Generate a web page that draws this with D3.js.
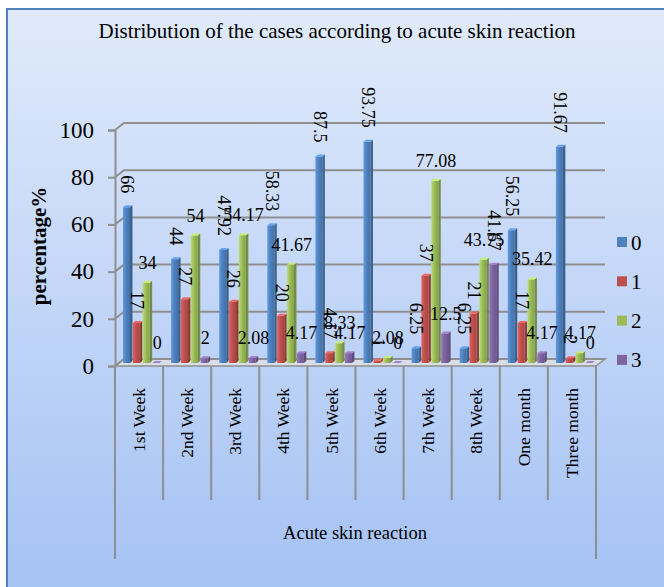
<!DOCTYPE html>
<html>
<head>
<meta charset="utf-8">
<script src="https://d3js.org/d3.v7.min.js"></script>
<style>
  body { margin: 0; background: #fff; }
  svg { display: block; }
  text { font-family: "Liberation Serif", "Times New Roman", serif; fill: #000; }
</style>
</head>
<body>
<div id="chart"></div>
<script>
// data
var categories = ["1st Week", "2nd Week", "3rd Week", "4th Week", "5th Week",
                  "6th Week", "7th Week", "8th Week", "One month", "Three month"];
var seriesNames = ["0", "1", "2", "3"];
var grade0 = [66, 44, 47.92, 58.33, 87.5, 93.75, 6.25, 6.25, 56.25, 91.67];
var grade1 = [17, 27, 26, 20, 4.17, 1, 37, 21, 17, 2];
var grade2 = [34, 54, 54.17, 41.67, 8.33, 2.08, 77.08, 43.75, 35.42, 4.17];
var grade3 = [0, 2, 2.08, 4.17, 4.17, 0, 12.5, 41.67, 4.17, 0];
var yTicks = [0, 20, 40, 60, 80, 100];

var series = [grade0, grade1, grade2, grade3];
var colors = ["#4f81bd", "#c0504d", "#9bbb59", "#8064a2"];
// labels of grade 0 and 1 are written sideways, like in the original
var rotated = [true, true, false, false];

var width = 664, height = 587;
var depthX = 9, depthY = 7;

var svg = d3.select("#chart").append("svg")
    .attr("width", width)
    .attr("height", height);

var defs = svg.append("defs");
var bg = defs.append("linearGradient").attr("id", "bg")
    .attr("x1", 0).attr("y1", 0).attr("x2", 0).attr("y2", 1);
bg.append("stop").attr("offset", "0%").attr("stop-color", "#e0eafb");
bg.append("stop").attr("offset", "100%").attr("stop-color", "#a3c1f4");

colors.forEach(function(c, j) {
  var g = defs.append("linearGradient").attr("id", "bar" + j)
      .attr("x1", 0).attr("y1", 0).attr("x2", 1).attr("y2", 0);
  g.append("stop").attr("offset", "0%").attr("stop-color", d3.color(c).brighter(0.5));
  g.append("stop").attr("offset", "45%").attr("stop-color", c);
  g.append("stop").attr("offset", "100%").attr("stop-color", d3.color(c).darker(0.4));
});

// frame
svg.append("rect")
    .attr("x", 7).attr("y", 9)
    .attr("width", width + 10).attr("height", height + 10)
    .attr("fill", "url(#bg)")
    .attr("stroke", "#4f81bd").attr("stroke-width", 2);

svg.append("text")
    .attr("x", 337).attr("y", 38)
    .attr("text-anchor", "middle")
    .style("font-size", "21px")
    .text("Distribution of the cases according to acute skin reaction");

var x = d3.scaleBand().domain(categories).range([115, 596]);
var sub = d3.scaleBand().domain(seriesNames).range([8, 47]).paddingInner(0.04);
var y = d3.scaleLinear().domain([0, 100]).range([366, 130]);

var grid = "#8f8f8f";

// floor
svg.append("path")
    .attr("d", "M" + x.range()[0] + "," + y(0) +
               "L" + x.range()[1] + "," + y(0) +
               "L" + (x.range()[1] + depthX) + "," + (y(0) - depthY) +
               "L" + (x.range()[0] + depthX) + "," + (y(0) - depthY) + "Z")
    .attr("fill", "#d9dee6").attr("stroke", grid).attr("stroke-width", 1.5);

// gridlines on the back wall and the side wall
var gl = svg.append("g");
yTicks.forEach(function(t) {
  gl.append("path")
      .attr("d", "M" + x.range()[0] + "," + y(t) +
                 "L" + (x.range()[0] + depthX) + "," + (y(t) - depthY) +
                 "L" + (x.range()[1] + depthX) + "," + (y(t) - depthY))
      .attr("fill", "none").attr("stroke", grid).attr("stroke-width", 2);
});

// y axis
var yAxis = svg.append("g")
    .attr("transform", "translate(" + x.range()[0] + ",0)")
    .call(d3.axisLeft(y).tickValues(yTicks).tickSize(7).tickPadding(14));
yAxis.select(".domain").attr("stroke", grid).attr("stroke-width", 2);
yAxis.selectAll(".tick line").attr("stroke", grid).attr("stroke-width", 2);
yAxis.selectAll(".tick text")
    .style("font-size", "23px")
    .style("font-family", "Liberation Serif, serif");

svg.append("text")
    .attr("transform", "translate(46,246) rotate(-90)")
    .attr("text-anchor", "middle")
    .style("font-size", "21px").style("font-weight", "bold")
    .text("percentage%");

// category boxes under the floor
var catG = svg.append("g");
categories.forEach(function(c, i) {
  var left = x(c);
  var outer = (i === 0);
  catG.append("line")
      .attr("x1", left).attr("x2", left)
      .attr("y1", y(0)).attr("y2", outer ? 559 : 500)
      .attr("stroke", grid).attr("stroke-width", 2);
  catG.append("text")
      .attr("transform", "translate(" + (left + x.bandwidth() / 2) + ",388) rotate(-90)")
      .attr("text-anchor", "end")
      .attr("dy", "0.35em")
      .style("font-size", "17.5px")
      .text(c);
});
catG.append("line")
    .attr("x1", x.range()[1]).attr("x2", x.range()[1])
    .attr("y1", y(0)).attr("y2", 559)
    .attr("stroke", grid).attr("stroke-width", 2);

svg.append("text")
    .attr("x", 355).attr("y", 539)
    .attr("text-anchor", "middle")
    .style("font-size", "18.5px")
    .text("Acute skin reaction");

// bars
var barsG = svg.append("g");
var bw = sub.bandwidth();
var fw = bw * 0.74, sw = bw - fw;
series.forEach(function(vals, j) {
  vals.forEach(function(v, i) {
    var bx = x(categories[i]) + sub(seriesNames[j]);
    var top = y(v) - 3, base = y(0) - 3;
    var g = barsG.append("g");
    g.append("path")
        .attr("d", "M" + (bx + fw) + "," + top + "L" + (bx + fw + sw) + "," + (top - 2) +
                   "L" + (bx + fw + sw) + "," + (base - 2) + "L" + (bx + fw) + "," + base + "Z")
        .attr("fill", d3.color(colors[j]).darker(0.8));
    g.append("rect")
        .attr("x", bx).attr("y", top)
        .attr("width", fw).attr("height", Math.max(0, base - top))
        .attr("fill", "url(#bar" + j + ")");
    g.append("path")
        .attr("d", "M" + bx + "," + top + "L" + (bx + sw) + "," + (top - 2) +
                   "L" + (bx + fw + sw) + "," + (top - 2) + "L" + (bx + fw) + "," + top + "Z")
        .attr("fill", d3.color(colors[j]).brighter(0.7));
  });
});

// value labels
var labG = svg.append("g");
series.forEach(function(vals, j) {
  vals.forEach(function(v, i) {
    var cx = x(categories[i]) + sub(seriesNames[j]) + bw / 2;
    var ly = y(v) - 17;
    var side = rotated[j] || (j === 3 && categories[i] === "8th Week");
    var t = labG.append("text").style("font-size", "18px").text(v);
    if (side) {
      t.attr("transform", "translate(" + cx + "," + ly + ") rotate(90)")
       .attr("text-anchor", "end").attr("dy", "0.35em");
    } else {
      t.attr("x", cx).attr("y", ly).attr("text-anchor", "middle");
    }
  });
});

// legend
var leg = svg.append("g").attr("transform", "translate(617,242)");
seriesNames.forEach(function(s, j) {
  var row = leg.append("g").attr("transform", "translate(0," + (j * 39.3) + ")");
  row.append("rect").attr("x", 0).attr("y", -5).attr("width", 10).attr("height", 10)
      .attr("fill", colors[j]);
  row.append("text").attr("x", 14).attr("y", 7.5)
      .style("font-size", "21px").text(s);
});
</script>
</body>
</html>
